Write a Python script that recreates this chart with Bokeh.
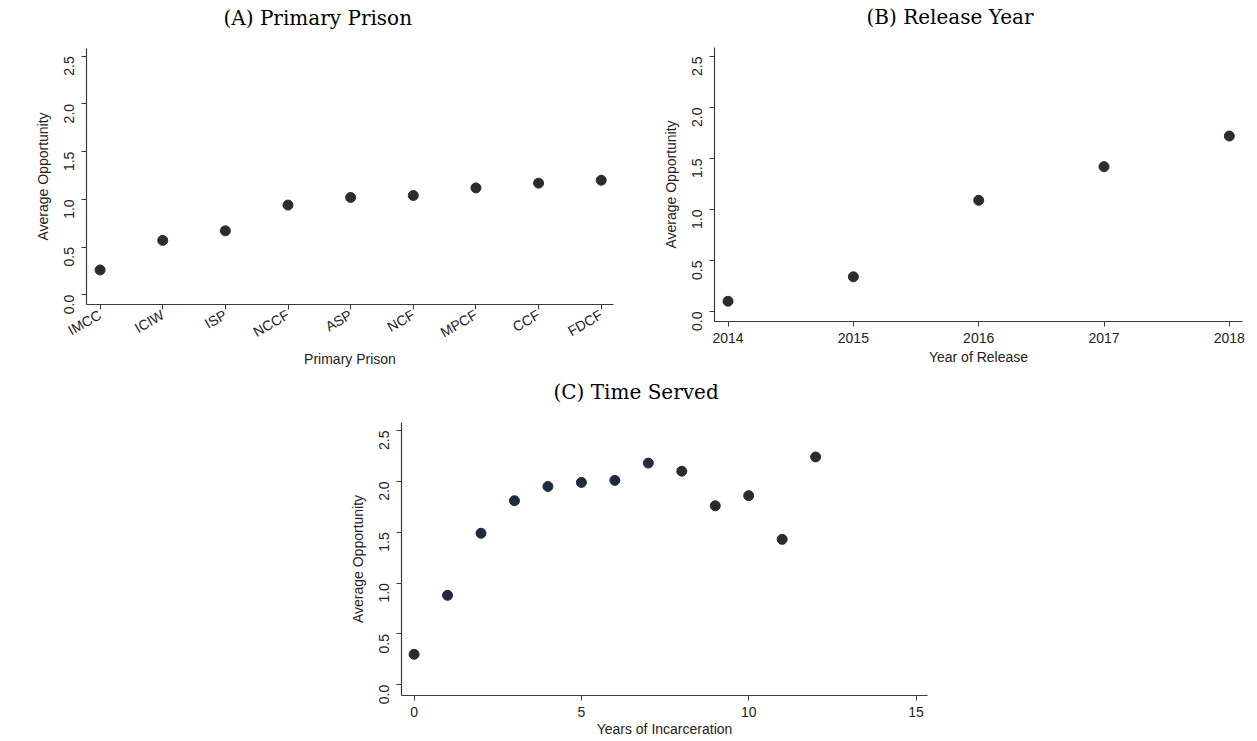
import math
from bokeh.plotting import figure
from bokeh.layouts import column, row
from bokeh.models import Range1d, FixedTicker, Title, Spacer, NumeralTickFormatter
from bokeh.embed import file_html
from bokeh.resources import INLINE

# ---- data ----
prisons = ["IMCC", "ICIW", "ISP", "NCCF", "ASP", "NCF", "MPCF", "CCF", "FDCF"]
prison_opp = [0.26, 0.57, 0.67, 0.94, 1.02, 1.04, 1.12, 1.17, 1.20]

release_years = [2014, 2015, 2016, 2017, 2018]
release_opp = [0.10, 0.34, 1.09, 1.42, 1.72]

years_served = [0, 1, 2, 3, 4, 5, 6, 7, 8, 9, 10, 11, 12]
served_opp = [0.30, 0.88, 1.49, 1.81, 1.95, 1.99, 2.01, 2.18, 2.10, 1.76, 1.86, 1.43, 2.24]

y_ticks = [0.0, 0.5, 1.0, 1.5, 2.0, 2.5]

# ---- styles ----
DOT = "#2c2c2c"
NAVY = "#1d2a40"
PURPLE = "#2b2942"
served_colors = [DOT] + [NAVY] * 6 + [PURPLE] + [DOT] * 5
AX = "#3a3a3a"
SANS = "Liberation Sans"
SERIF = "DejaVu Serif"


def style(p, xlabel, ylabel):
    p.xgrid.visible = False
    p.ygrid.visible = False
    p.outline_line_color = None
    p.background_fill_color = "white"
    p.border_fill_color = "white"
    for ax in (p.xaxis[0], p.yaxis[0]):
        ax.axis_line_color = AX
        ax.axis_line_width = 1.2
        ax.major_tick_line_color = AX
        ax.major_tick_out = 5
        ax.major_tick_in = 0
        ax.minor_tick_line_color = None
        ax.major_label_text_font = SANS
        ax.major_label_text_font_size = "14px"
        ax.major_label_text_color = "#222222"
        ax.axis_label_text_font = SANS
        ax.axis_label_text_font_size = "14px"
        ax.axis_label_text_font_style = "normal"
        ax.axis_label_text_color = "#222222"
    p.xaxis.axis_label = xlabel
    p.yaxis.axis_label = ylabel
    p.yaxis.ticker = FixedTicker(ticks=y_ticks)
    p.yaxis.formatter = NumeralTickFormatter(format="0.0")
    p.yaxis.major_label_orientation = math.pi / 2
    p.yaxis.major_label_standoff = 12
    p.yaxis.axis_label_standoff = 6


def add_title(p, text, offset):
    # blank spacer title next to the frame, then the real title above it
    p.add_layout(Title(text=" ", text_font_size="8px", standoff=7), "above")
    p.add_layout(Title(text=text, align="left", offset=offset, text_font=SERIF,
                       text_font_size="20px", text_font_style="normal", text_color="black",
                       vertical_align="middle", standoff=0), "above")


# ---- Panel A ----
pA = figure(width=650, height=376, output_backend="svg", toolbar_location=None,
            x_range=Range1d(-0.217, 8.196), y_range=Range1d(-0.102, 2.581),
            min_border_left=86, min_border_right=37, min_border_top=48, min_border_bottom=72)
xa = list(range(len(prisons)))
pA.scatter(xa, prison_opp, size=10, color=DOT)
style(pA, "Primary Prison", "Average Opportunity")
pA.xaxis.ticker = FixedTicker(ticks=xa)
pA.xaxis.major_label_overrides = {i: n for i, n in enumerate(prisons)}
pA.xaxis.major_label_orientation = math.radians(30)
pA.xaxis.major_label_standoff = 4
pA.xaxis.axis_label_standoff = 1
add_title(pA, "(A) Primary Prison", 137)

# ---- Panel B ----
pB = figure(width=605, height=376, output_backend="svg", toolbar_location=None,
            x_range=Range1d(2013.892, 2018.105), y_range=Range1d(-0.098, 2.588),
            min_border_left=64, min_border_right=13, min_border_top=47, min_border_bottom=55)
pB.scatter(release_years, release_opp, size=10, color=DOT)
style(pB, "Year of Release", "Average Opportunity")
pB.xaxis.ticker = FixedTicker(ticks=release_years)
pB.xaxis.major_label_standoff = 6
pB.xaxis.axis_label_standoff = 3
add_title(pB, "(B) Release Year", 152)

# ---- Panel C ----
pC = figure(width=647, height=363, output_backend="svg", toolbar_location=None,
            x_range=Range1d(-0.376, 15.343), y_range=Range1d(-0.105, 2.579),
            min_border_left=81, min_border_right=40, min_border_top=46, min_border_bottom=44)
pC.scatter(years_served, served_opp, size=10, color=served_colors)
style(pC, "Years of Incarceration", "Average Opportunity")
pC.xaxis.ticker = FixedTicker(ticks=[0, 5, 10, 15])
pC.xaxis.major_label_standoff = 6
pC.xaxis.axis_label_standoff = 1
add_title(pC, "(C) Time Served", 152)

layout = column(row(column(pA), column(pB)), row(Spacer(width=320, height=363), column(pC)))

open("out.html", "w").write(file_html(layout, INLINE))
